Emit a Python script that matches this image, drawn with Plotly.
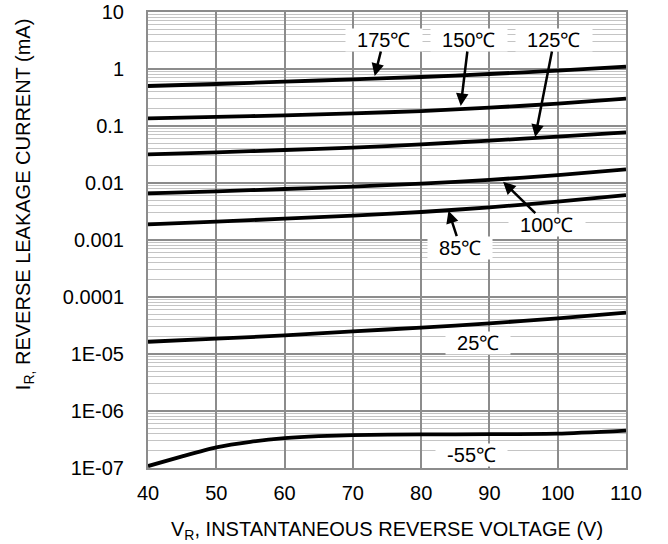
import plotly.graph_objects as go

# ---- data ----
voltage = [40, 50, 60, 70, 80, 90, 100, 110]
i_175 = [0.503, 0.546, 0.600, 0.659, 0.724, 0.817, 0.935, 1.10]
i_150 = [0.136, 0.144, 0.154, 0.167, 0.183, 0.210, 0.246, 0.302]
i_125 = [0.0318, 0.0345, 0.0379, 0.0417, 0.0477, 0.0553, 0.0650, 0.0774]
i_100 = [0.00659, 0.00714, 0.00785, 0.00863, 0.00974, 0.0113, 0.0138, 0.0174]
i_85 = [0.00188, 0.00210, 0.00237, 0.00267, 0.00310, 0.00374, 0.00471, 0.00615]
i_25 = [1.64e-5, 1.86e-5, 2.12e-5, 2.50e-5, 2.90e-5, 3.45e-5, 4.23e-5, 5.31e-5]
voltage_m55 = [40, 45, 50, 55, 60, 65, 70, 80, 90, 100, 110]
i_m55 = [1.08e-7, 1.60e-7, 2.30e-7, 2.88e-7, 3.33e-7, 3.62e-7, 3.78e-7, 3.88e-7, 3.92e-7, 4.00e-7, 4.52e-7]

y_tickvals = [1e-7, 1e-6, 1e-5, 1e-4, 1e-3, 1e-2, 1e-1, 1, 10]
y_ticktext = ["1E-07", "1E-06", "1E-05", "0.0001", "0.001", "0.01", "0.1", "1", "10"]
x_tickvals = [40, 50, 60, 70, 80, 90, 100, 110]

FONT = "Liberation Sans, Arial, sans-serif"

fig = go.Figure()
series = [
    (voltage, i_175), (voltage, i_150), (voltage, i_125), (voltage, i_100),
    (voltage, i_85), (voltage, i_25), (voltage_m55, i_m55),
]
for xs, ys in series:
    fig.add_trace(go.Scatter(x=xs, y=ys, mode="lines",
                             line=dict(color="black", width=3.8, shape="spline", smoothing=0.6),
                             showlegend=False, hoverinfo="skip"))

NB = "\u00a0\u00a0"
arrow_labels = [
    # text, tip x, tip log10(y), ax, ay
    ("175℃", 73.2, -0.123, 9, -36),
    ("150℃", 85.8, -0.649, 8, -66),
    ("125℃", 96.7, -1.193, 19, -97),
    ("100℃", 92.0, -1.977, 44, 43),
    ("85℃", 84.0, -2.486, 12, 37),
]
for txt, x, ly, ax, ay in arrow_labels:
    fig.add_annotation(x=x, y=ly, xref="x", yref="y", text=NB + txt + NB,
                       showarrow=True, ax=ax, ay=ay, axref="pixel", ayref="pixel",
                       arrowhead=2, arrowsize=1, arrowwidth=2.5, arrowcolor="black",
                       bgcolor="white", borderpad=0,
                       font=dict(family=FONT, size=20, color="black"))

plain_labels = [("25℃", 88.3, -4.807), ("-55℃", 87.4, -6.772)]
for txt, x, ly in plain_labels:
    fig.add_annotation(x=x, y=ly, xref="x", yref="y", text=NB + txt + NB,
                       showarrow=False, bgcolor="white", borderpad=0,
                       font=dict(family=FONT, size=20, color="black"))

# axis titles as annotations
fig.add_annotation(xref="paper", yref="paper", x=-0.257, y=0.579,
                   text="I<sub>R,</sub> REVERSE LEAKAGE CURRENT (mA)", textangle=-90,
                   showarrow=False, xanchor="center", yanchor="middle",
                   font=dict(family=FONT, size=20, color="black"))
fig.add_annotation(xref="paper", yref="paper", x=0.5, y=-0.136,
                   text="V<sub>R</sub>, INSTANTANEOUS REVERSE VOLTAGE (V)",
                   showarrow=False, xanchor="center", yanchor="middle",
                   font=dict(family=FONT, size=20, color="black"))

fig.update_xaxes(range=[40, 110], tickvals=x_tickvals, ticks="", showline=True,
                 linecolor="#8c8c8c", linewidth=2, mirror=True, automargin=False,
                 showgrid=True, gridcolor="#8c8c8c", gridwidth=2, zeroline=False,
                 tickfont=dict(family=FONT, size=20, color="black"),
                 ticklabelstandoff=6)
fig.update_yaxes(type="log", range=[-7, 1], tickvals=y_tickvals, ticktext=y_ticktext,
                 ticks="", showline=True, linecolor="#8c8c8c", linewidth=2, mirror=True,
                 automargin=False,
                 showgrid=True, gridcolor="#8c8c8c", gridwidth=2, zeroline=False,
                 tickfont=dict(family=FONT, size=20, color="black"),
                 ticklabelstandoff=18,
                 minor=dict(showgrid=True, dtick="D1", gridcolor="#c4c4c4", gridwidth=1.2))

fig.update_layout(width=668, height=544, plot_bgcolor="white", paper_bgcolor="white",
                  margin=dict(l=148, r=42, t=12, b=76, autoexpand=False),
                  font=dict(family=FONT))

fig.write_html("out.html", config={"displayModeBar": False},
               post_script="document.body.style.margin='0';document.body.style.padding='0';")
